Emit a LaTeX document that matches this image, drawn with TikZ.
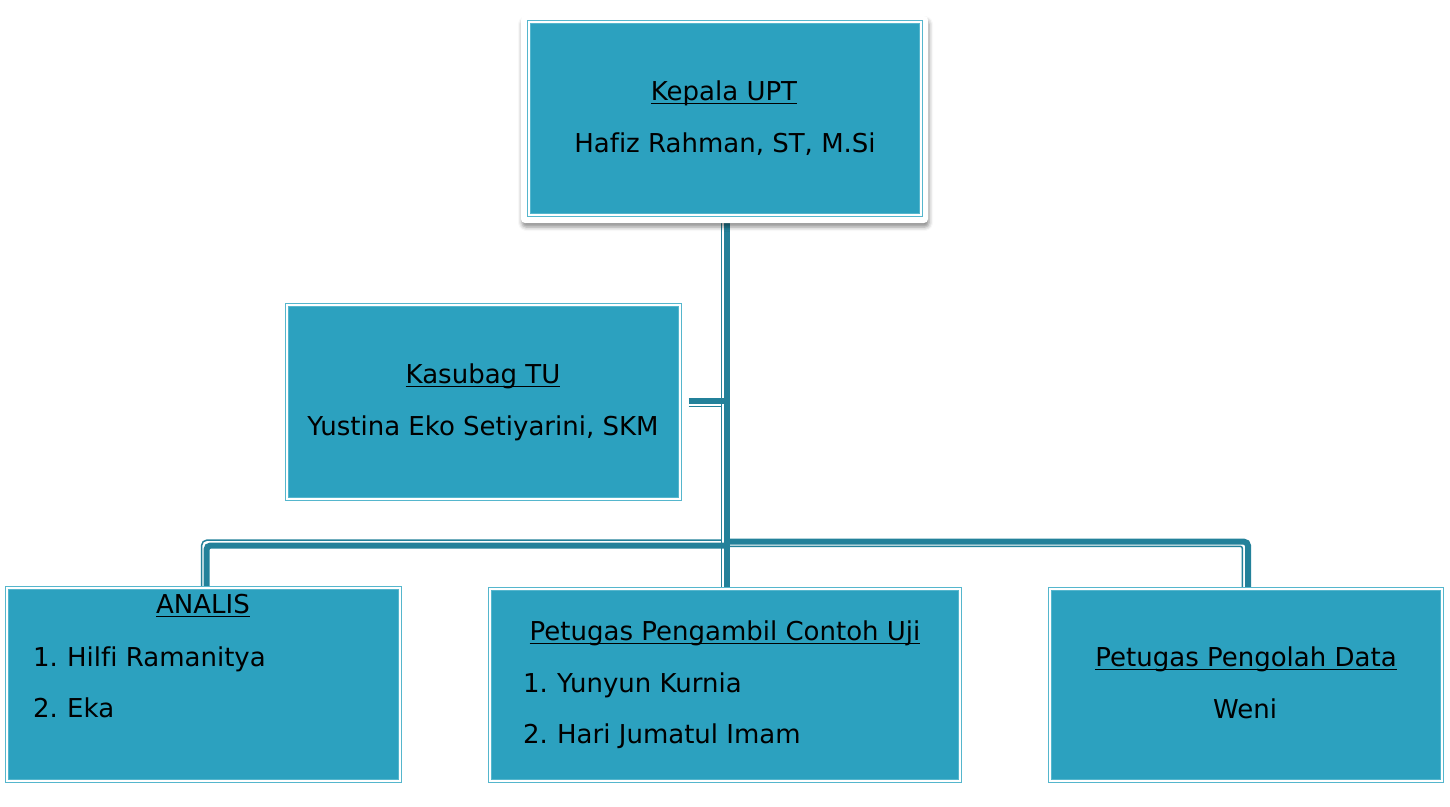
\documentclass[tikz,border=0pt]{standalone}
\usepackage{fontspec}
\setmainfont{DejaVu Sans}[Ligatures=NoCommon]
\usetikzlibrary{shadows.blur,backgrounds}
\definecolor{boxteal}{HTML}{2CA1BF}
\definecolor{edgeteal}{HTML}{55B6CD}
\definecolor{linkteal}{HTML}{23819A}
\newcommand\ulx[1]{\setbox0=\hbox{#1}\rlap{\rule[-4pt]{\wd0}{1.3pt}}\box0}
\newcommand\itm[2]{\makebox[34pt][l]{#1}#2}
\tikzset{
  orgbox/.style={draw=edgeteal, fill=boxteal, line width=1pt, double=white, double distance=2pt, inner sep=0pt},
  topframe/.style={draw=none, fill=white, rounded corners=4pt, blur shadow={shadow xshift=1pt, shadow yshift=-4pt, shadow blur radius=4pt, shadow opacity=45}},
  lbl/.style={inner sep=0pt, font=\fontsize{26}{30}\selectfont, text=black},
  thickc/.style={draw=linkteal, line width=6pt},
  thinc/.style={draw=linkteal, line width=1.5pt}
}
\begin{document}
\begin{tikzpicture}[x=1pt, y=-1pt]
\useasboundingbox (0,0) rectangle (1450,806);
% boxes
\node[topframe, minimum width=407pt, minimum height=207pt] (frame) at (724.5,119.5) {};
\node[orgbox, minimum width=392pt, minimum height=193pt] (top) at (725,118.5) {};
\node[orgbox, minimum width=393pt, minimum height=194pt] (kasubag) at (483.5,402) {};
\node[orgbox, minimum width=393pt, minimum height=193pt] (analis) at (203.5,684.5) {};
\node[orgbox, minimum width=470pt, minimum height=192pt] (pengambil) at (725,685) {};
\node[orgbox, minimum width=392pt, minimum height=192pt] (pengolah) at (1246,685) {};
% texts
\node[lbl, anchor=base] (t1) at (724,100) {\ulx{Kepala UPT}};
\node[lbl, anchor=base] (t2) at (725,152) {Hafiz Rahman, ST, M.Si};
\node[lbl, anchor=base] (k1) at (483,383) {\ulx{Kasubag TU}};
\node[lbl, anchor=base] (k2) at (483,435) {Yustina Eko Setiyarini, SKM};
\node[lbl, anchor=base] (a1) at (203,613) {\ulx{ANALIS}};
\node[lbl, anchor=base west] (a2) at (33,666) {\itm{1.}{Hilfi Ramanitya}};
\node[lbl, anchor=base west] (a3) at (33,717) {\itm{2.}{Eka}};
\node[lbl, anchor=base] (p1) at (725,640) {\ulx{Petugas Pengambil Contoh Uji}};
\node[lbl, anchor=base west] (p2) at (523,692) {\itm{1.}{Yunyun Kurnia}};
\node[lbl, anchor=base west] (p3) at (523,743) {\itm{2.}{Hari Jumatul Imam}};
\node[lbl, anchor=base] (d1) at (1246,666) {\ulx{Petugas Pengolah Data}};
\node[lbl, anchor=base] (d2) at (1245,718) {Weni};
% connectors
\begin{pgfonlayer}{background}
\coordinate (junL) at (727,545.5);
\coordinate (junLt) at (721.3,540.2);
\coordinate (junR) at (727,541.7);
\coordinate (junRt) at (729,546.3);
\draw[thickc] ([xshift=2pt]top.south) -- ([xshift=2pt]pengambil.north);
\draw[thinc] ([xshift=-3.7pt]top.south) -- ([xshift=-3.7pt]pengambil.north);
\draw[thickc] ([xshift=8pt,yshift=1pt]kasubag.east) -- ([yshift=1pt]kasubag.east -| junL);
\draw[thinc] ([xshift=8pt,yshift=-4.5pt]kasubag.east) -- ([yshift=-4.5pt]kasubag.east -| junLt);
\draw[thickc, rounded corners=4pt] ([xshift=3pt]analis.north) -- ([xshift=3pt]analis.north |- junL) -- (junL);
\draw[thinc, rounded corners=5pt] ([xshift=-1.8pt]analis.north) -- ([xshift=-1.8pt]analis.north |- junLt) -- (junLt);
\draw[thickc, rounded corners=4pt] (junR) -- ([xshift=2pt]pengolah.north |- junR) -- ([xshift=2pt]pengolah.north);
\draw[thinc, rounded corners=2pt] (junRt) -- ([xshift=-3.7pt]pengolah.north |- junRt) -- ([xshift=-3.7pt]pengolah.north);
\end{pgfonlayer}
\end{tikzpicture}
\end{document}
